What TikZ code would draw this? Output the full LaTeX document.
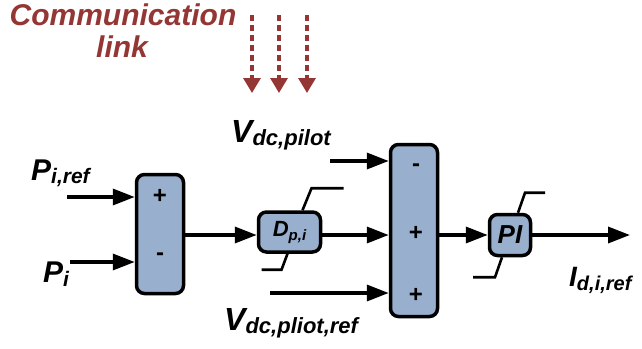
\documentclass[tikz,border=0pt]{standalone}
\usepackage{fontspec}
\setmainfont{Liberation Sans}
\usetikzlibrary{arrows.meta}
\definecolor{boxblue}{HTML}{98AFCD}
\definecolor{linkred}{HTML}{943634}
\newcommand{\sublab}[5]{{\fontsize{#3}{#3}\selectfont #1}\raisebox{-#5pt}{\fontsize{#4}{#4}\selectfont #2}}
\begin{document}
\begin{tikzpicture}[x=1pt,y=-1pt, font=\bfseries\itshape,
 blk/.style={draw, line width=3.5pt, fill=boxblue, rounded corners=8pt, inner sep=0pt},
 sig/.style={line width=3.5pt, -{Triangle[length=22pt,width=16pt]}},
 lim/.style={line width=2.6pt},
 lab/.style={anchor=base west, inner sep=0pt},
 sgn/.style={font=\bfseries\fontsize{24}{24}\selectfont, inner sep=0pt},
 lnk/.style={draw=linkred, line width=3.2pt, dash pattern=on 6pt off 4pt, -{Triangle[length=15pt,width=17pt]}},
 lnktxt/.style={anchor=base, inner sep=0pt, text=linkred, font=\bfseries\itshape\fontsize{30}{30}\selectfont}
]
\useasboundingbox (0,0) rectangle (642,348);
\coordinate (row) at (0,235);

% blocks
\node[blk, minimum width=47pt, minimum height=119pt] (s1) at (160,234) {};
\node[blk, minimum width=47pt, minimum height=172pt] (s2) at (414,230.5) {};
\node[blk, minimum width=62pt, minimum height=40pt] (d) at (289.5,232) {\sublab{D}{p,i}{22}{15}{4}};
\node[blk, minimum width=41pt, minimum height=41pt] (pi) at (510,235) {{\fontsize{26}{26}\selectfont PI}};

% signs
\node[sgn] (s1a) at (160,196) {+};
\node[sgn] (s1b) at (160,257) {-};
\node[sgn] (s2a) at (416,168) {-};
\node[sgn] (s2b) at (416,233) {+};
\node[sgn] (s2c) at (416,295) {+};

% limiters
\draw[lim] ([xshift=13pt]d.north) -- ++(9,-22) -- ++(32,0);
\draw[lim] ([xshift=-2pt]d.south) -- ++(-6,16) -- ++(-20,0);
\draw[lim] ([xshift=8pt]pi.north) -- ++(7,-20) -- ++(20,0);
\draw[lim] ([xshift=-8pt]pi.south) -- ++(-7,20) -- ++(-22,0);

% inputs
\coordinate (a1) at (67,197);
\coordinate (a2) at (70,262);
\coordinate (b1) at (330,161);
\coordinate (b3) at (270,293);
\coordinate (out) at (630,235);
\draw[sig] (a1) -- (a1 -| s1.west);
\draw[sig] (a2) -- (a2 -| s1.west);
\draw[sig] (s1.east |- row) -- (d.west |- row);
\draw[sig] (d.east |- row) -- (s2.west |- row);
\draw[sig] (b1) -- (b1 -| s2.west);
\draw[sig] (b3) -- (b3 -| s2.west);
\draw[sig] (s2.east |- row) -- (pi.west);
\draw[sig] (pi.east) -- (out);

% communication link
\coordinate (c1s) at (252,15); \coordinate (c1e) at (252,93);
\coordinate (c2s) at (279,15); \coordinate (c2e) at (279,93);
\coordinate (c3s) at (307,15); \coordinate (c3e) at (307,93);
\draw[lnk] (c1s) -- (c1e);
\draw[lnk] (c2s) -- (c2e);
\draw[lnk] (c3s) -- (c3e);
\node[lnktxt] (t1) at (123,25) {Communication};
\node[lnktxt] (t2) at (122,57) {link};

% labels
\node[lab] (lpr) at (31,180) {\sublab{P}{i,ref}{30}{21}{3}};
\node[lab] (lp) at (43,282) {\sublab{P}{i}{30}{21}{4}};
\node[lab] (lv1) at (231,142) {\sublab{V}{dc,pilot}{32}{22}{3}};
\node[lab] (lv2) at (224,330) {\sublab{V}{dc,pliot,ref}{32}{22}{3}};
\node[lab] (li) at (569,286) {\sublab{I}{d,i,ref}{28}{20}{4}};
\end{tikzpicture}
\end{document}
